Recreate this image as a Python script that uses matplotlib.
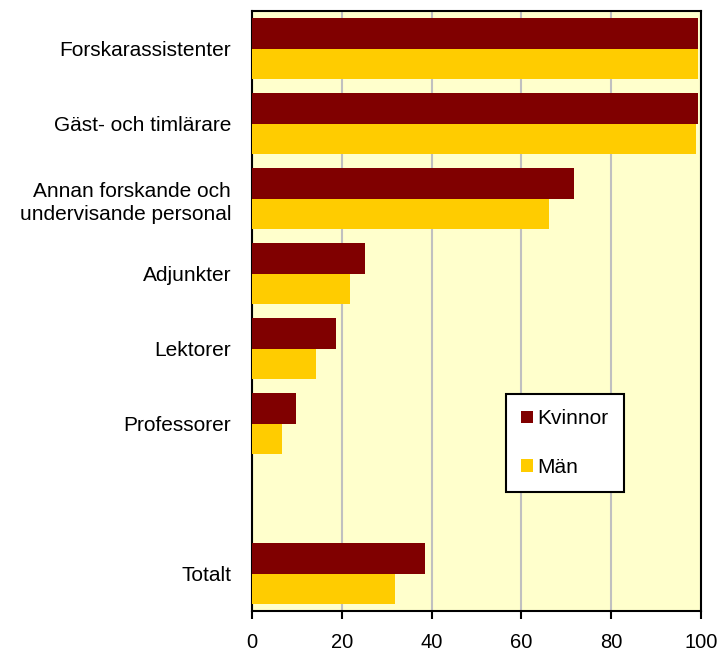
import numpy as np
import matplotlib
matplotlib.use('Agg')
import matplotlib.pyplot as plt

# andel (%) per personalkategori
categories = ["Forskarassistenter", "Gäst- och timlärare",
              "Annan forskande och\nundervisande personal",
              "Adjunkter", "Lektorer", "Professorer", "Totalt"]
kvinnor = [99.4, 99.4, 71.8, 25.1, 18.8, 9.8, 38.5]
man = [99.3, 98.9, 66.1, 21.9, 14.3, 6.7, 31.8]
xticks = [0, 20, 40, 60, 80, 100]

plt.rcParams['font.family'] = ['Liberation Sans', 'DejaVu Sans']

fig = plt.figure(figsize=(7.22, 6.57), dpi=100)
ax = fig.add_axes([0.349, 0.070, 0.622, 0.913])
ax.set_facecolor('#FFFFCC')

# tom rad före Totalt
pos = np.array([0, 1, 2, 3, 4, 5, 7])
h = 0.41
ax.barh(pos - h / 2, kvinnor, height=h, color='#800000', label='Kvinnor', zorder=3)
ax.barh(pos + h / 2, man, height=h, color='#FFCC00', label='Män', zorder=3)

ax.set_xlim(0, 100)
ax.set_ylim(7.5, -0.5)
ax.set_xticks(xticks)
ax.set_xticklabels([str(t) for t in xticks], fontsize=14.5)
ax.set_yticks(pos)
ax.set_yticklabels(categories, fontsize=15, linespacing=1.3)
ax.tick_params(axis='y', length=0, pad=15)
ax.tick_params(axis='x', direction='out', length=6, width=1.5, pad=10)
ax.grid(axis='x', color='#C0C0C0', linewidth=1.5, zorder=0)
for s in ax.spines.values():
    s.set_color('black')
    s.set_linewidth(1.5)

leg = ax.legend(loc='upper left', bbox_to_anchor=(0.565, 0.362), fontsize=15,
                frameon=True, fancybox=False, framealpha=1, edgecolor='black',
                handlelength=0.55, handleheight=0.55, handletextpad=0.2,
                labelspacing=1.4, borderpad=0.75, borderaxespad=0)
leg.get_frame().set_linewidth(1.5)

fig.savefig('out.png', dpi=100)
